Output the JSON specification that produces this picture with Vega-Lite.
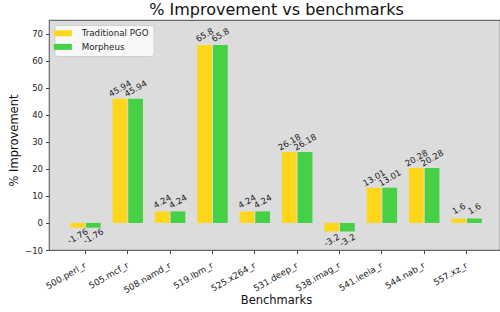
{
  "$schema": "https://vega.github.io/schema/vega-lite/v6.json",
  "width": 451,
  "height": 230,
  "autosize": {"type": "none"},
  "padding": {"left": 49, "top": 20, "right": 0, "bottom": 62},
  "background": "white",
  "config": {
    "font": "DejaVu Sans",
    "view": {"fill": "#dcdcdc", "stroke": "#6a6a6a", "strokeWidth": 1.2}
  },
  "title": {
    "text": "% Improvement vs benchmarks",
    "fontSize": 16,
    "fontWeight": "normal",
    "color": "#111",
    "anchor": "middle",
    "frame": "group",
    "baseline": "bottom",
    "offset": 2,
    "dx": 2,
    "dy": 16
  },
  "data": {
    "values": [
      {"bench": "500.perl_r", "method": "Traditional PGO", "value": -1.76},
      {"bench": "500.perl_r", "method": "Morpheus", "value": -1.76},
      {"bench": "505.mcf_r", "method": "Traditional PGO", "value": 45.94},
      {"bench": "505.mcf_r", "method": "Morpheus", "value": 45.94},
      {"bench": "508.namd_r", "method": "Traditional PGO", "value": 4.24},
      {"bench": "508.namd_r", "method": "Morpheus", "value": 4.24},
      {"bench": "519.lbm_r", "method": "Traditional PGO", "value": 65.8},
      {"bench": "519.lbm_r", "method": "Morpheus", "value": 65.8},
      {"bench": "525.x264_r", "method": "Traditional PGO", "value": 4.24},
      {"bench": "525.x264_r", "method": "Morpheus", "value": 4.24},
      {"bench": "531.deep_r", "method": "Traditional PGO", "value": 26.18},
      {"bench": "531.deep_r", "method": "Morpheus", "value": 26.18},
      {"bench": "538.imag_r", "method": "Traditional PGO", "value": -3.2},
      {"bench": "538.imag_r", "method": "Morpheus", "value": -3.2},
      {"bench": "541.leela_r", "method": "Traditional PGO", "value": 13.01},
      {"bench": "541.leela_r", "method": "Morpheus", "value": 13.01},
      {"bench": "544.nab_r", "method": "Traditional PGO", "value": 20.28},
      {"bench": "544.nab_r", "method": "Morpheus", "value": 20.28},
      {"bench": "557.xz_r", "method": "Traditional PGO", "value": 1.6},
      {"bench": "557.xz_r", "method": "Morpheus", "value": 1.6}
    ]
  },
  "encoding": {
    "x": {
      "field": "bench",
      "type": "nominal",
      "sort": null,
      "scale": {"range": [0, 454], "paddingInner": 0.28, "paddingOuter": 0.5},
      "axis": {
        "title": "Benchmarks",
        "titleFontSize": 11.5,
        "titleFontWeight": "normal",
        "titleColor": "#111",
        "titleX": 227,
        "titleY": 50,
        "titleBaseline": "middle",
        "titleAlign": "center",
        "labelAngle": -30,
        "labelAlign": "right",
        "labelBaseline": "top",
        "labelFontSize": 8.8,
        "labelColor": "#222",
        "labelPadding": 7,
        "labelOffset": -2,
        "tickSize": 3.5,
        "tickColor": "#444",
        "domain": false,
        "grid": false
      }
    },
    "xOffset": {
      "field": "method",
      "type": "nominal",
      "sort": ["Traditional PGO", "Morpheus"],
      "scale": {"domain": ["Traditional PGO", "Morpheus"], "paddingInner": 0.06}
    },
    "y": {
      "field": "value",
      "type": "quantitative",
      "scale": {"domain": [-10, 75], "nice": false, "zero": false},
      "axis": {
        "title": "% Improvement",
        "titleFontSize": 11.5,
        "titleFontWeight": "normal",
        "titleColor": "#111",
        "titleX": -35,
        "titleY": 120,
        "titleAngle": -90,
        "titleAlign": "center",
        "titleBaseline": "middle",
        "values": [-10, 0, 10, 20, 30, 40, 50, 60, 70],
        "labelFontSize": 8.5,
        "labelColor": "#222",
        "labelPadding": 3,
        "tickSize": 3.5,
        "tickColor": "#444",
        "domain": false,
        "grid": false
      }
    }
  },
  "layer": [
    {
      "mark": {"type": "bar"},
      "encoding": {
        "color": {
          "field": "method",
          "type": "nominal",
          "scale": {"domain": ["Traditional PGO", "Morpheus"], "range": ["#fed71c", "#45d045"]},
          "legend": {
            "title": null,
            "orient": "none",
            "legendX": 5.5,
            "legendY": 5,
            "direction": "vertical",
            "padding": 4,
            "fillColor": "#f8f8f8",
            "strokeColor": "#cfcfcf",
            "cornerRadius": 3,
            "symbolType": "M-3,-1H3V1H-3Z",
            "symbolSize": 36,
            "symbolStrokeWidth": 0,
            "symbolOpacity": 1,
            "labelFontSize": 8.7,
            "labelColor": "#222",
            "labelOffset": 14.5,
            "rowPadding": 3.5
          }
        }
      }
    },
    {
      "transform": [{"filter": "datum.value >= 0"}],
      "mark": {"type": "text", "angle": 330, "align": "center", "baseline": "middle", "dx": 5, "dy": -8.66, "fontSize": 8.5, "color": "#222"},
      "encoding": {"text": {"field": "value", "type": "nominal"}}
    },
    {
      "transform": [{"filter": "datum.value < 0"}],
      "mark": {"type": "text", "angle": 330, "align": "center", "baseline": "middle", "dx": -4.25, "dy": 7.36, "fontSize": 8.5, "color": "#222"},
      "encoding": {"text": {"field": "value", "type": "nominal"}}
    }
  ]
}
